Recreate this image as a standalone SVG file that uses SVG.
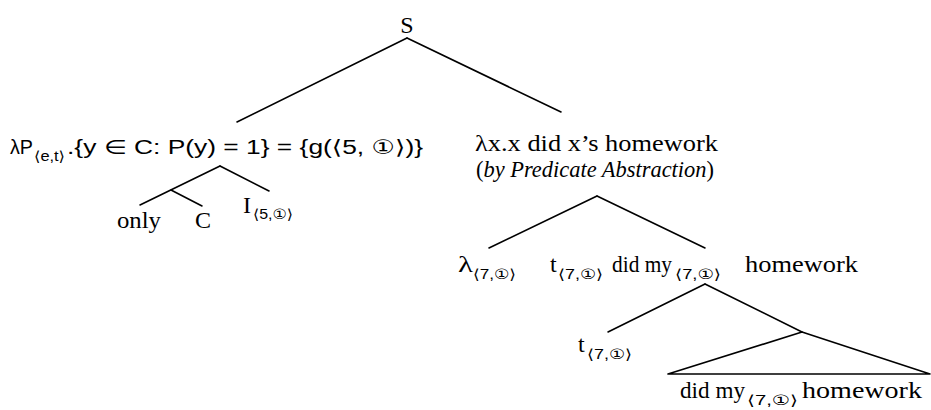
<svg xmlns="http://www.w3.org/2000/svg" width="931" height="410" viewBox="0 0 931 410">
<style>
.t{font-family:"Liberation Serif","DejaVu Serif",serif;font-size:24px;fill:#000}
.m{font-family:"Liberation Sans","DejaVu Sans",sans-serif;font-size:20px;fill:#000}
.s{font-family:"Liberation Sans","DejaVu Sans",sans-serif;font-size:14px;fill:#000}
.i{font-style:italic}
.e{stroke:#000;stroke-width:1.6;fill:none;stroke-linecap:round;stroke-linejoin:round}
</style>
<rect width="931" height="410" fill="#fff"/>
<g id="connectors">
<line class="e" x1="407" y1="38" x2="237" y2="122"/>
<line class="e" x1="407" y1="38" x2="561" y2="112"/>
<line class="e" x1="220" y1="166" x2="140" y2="205"/>
<line class="e" x1="171" y1="190" x2="202" y2="206"/>
<line class="e" x1="220" y1="166" x2="269" y2="191"/>
<line class="e" x1="597" y1="196" x2="489" y2="248"/>
<line class="e" x1="597" y1="196" x2="705" y2="248"/>
<line class="e" x1="705" y1="284" x2="608" y2="332"/>
<line class="e" x1="705" y1="284" x2="802" y2="332"/>
<polygon class="e" points="802,332 668,374 930,374"/>
</g>
<g id="n-S"><text class="t" x="407" y="33" text-anchor="middle" font-size="25">S</text></g>
<g id="n-left">
<text class="m" x="10" y="154" textLength="23" lengthAdjust="spacingAndGlyphs">λP</text>
<text class="s" x="34" y="161" textLength="31" lengthAdjust="spacingAndGlyphs">⟨e,t⟩</text>
<text class="m" x="67" y="154" textLength="356" lengthAdjust="spacingAndGlyphs">.{y ∈ C: P(y) = 1} = {g(⟨5, ①⟩)}</text>
</g>
<g id="n-right">
<text class="t" x="475" y="151" textLength="243" lengthAdjust="spacingAndGlyphs">λx.x did x’s homework</text>
<text class="t" x="476" y="177" font-size="21" textLength="238" lengthAdjust="spacingAndGlyphs">(<tspan class="i">by Predicate Abstraction</tspan>)</text>
</g>
<g id="n-only"><text class="t" x="117" y="228" textLength="44" lengthAdjust="spacingAndGlyphs">only</text></g>
<g id="n-C"><text class="t" x="195" y="228">C</text></g>
<g id="n-I">
<text class="t" x="243" y="213">I</text>
<text class="s" x="253" y="219" textLength="40" lengthAdjust="spacingAndGlyphs">⟨5,①⟩</text>
</g>
<g id="n-lambda">
<text class="t" x="458" y="272" textLength="15" lengthAdjust="spacingAndGlyphs">λ</text>
<text class="s" x="473" y="279" textLength="43" lengthAdjust="spacingAndGlyphs">⟨7,①⟩</text>
</g>
<g id="n-vp">
<text class="t" x="550" y="272">t</text>
<text class="s" x="558" y="279" textLength="45" lengthAdjust="spacingAndGlyphs">⟨7,①⟩</text>
<text class="t" x="612" y="272" textLength="60" lengthAdjust="spacingAndGlyphs">did my</text>
<text class="s" x="675" y="279" textLength="46" lengthAdjust="spacingAndGlyphs">⟨7,①⟩</text>
<text class="t" x="745" y="272" textLength="113" lengthAdjust="spacingAndGlyphs">homework</text>
</g>
<g id="n-t">
<text class="t" x="578" y="352">t</text>
<text class="s" x="587" y="359" textLength="45" lengthAdjust="spacingAndGlyphs">⟨7,①⟩</text>
</g>
<g id="n-didmy">
<text class="t" x="680" y="398" textLength="65" lengthAdjust="spacingAndGlyphs">did my</text>
<text class="s" x="747" y="405" textLength="51" lengthAdjust="spacingAndGlyphs">⟨7,①⟩</text>
<text class="t" x="802" y="398" textLength="120" lengthAdjust="spacingAndGlyphs">homework</text>
</g>
</svg>
